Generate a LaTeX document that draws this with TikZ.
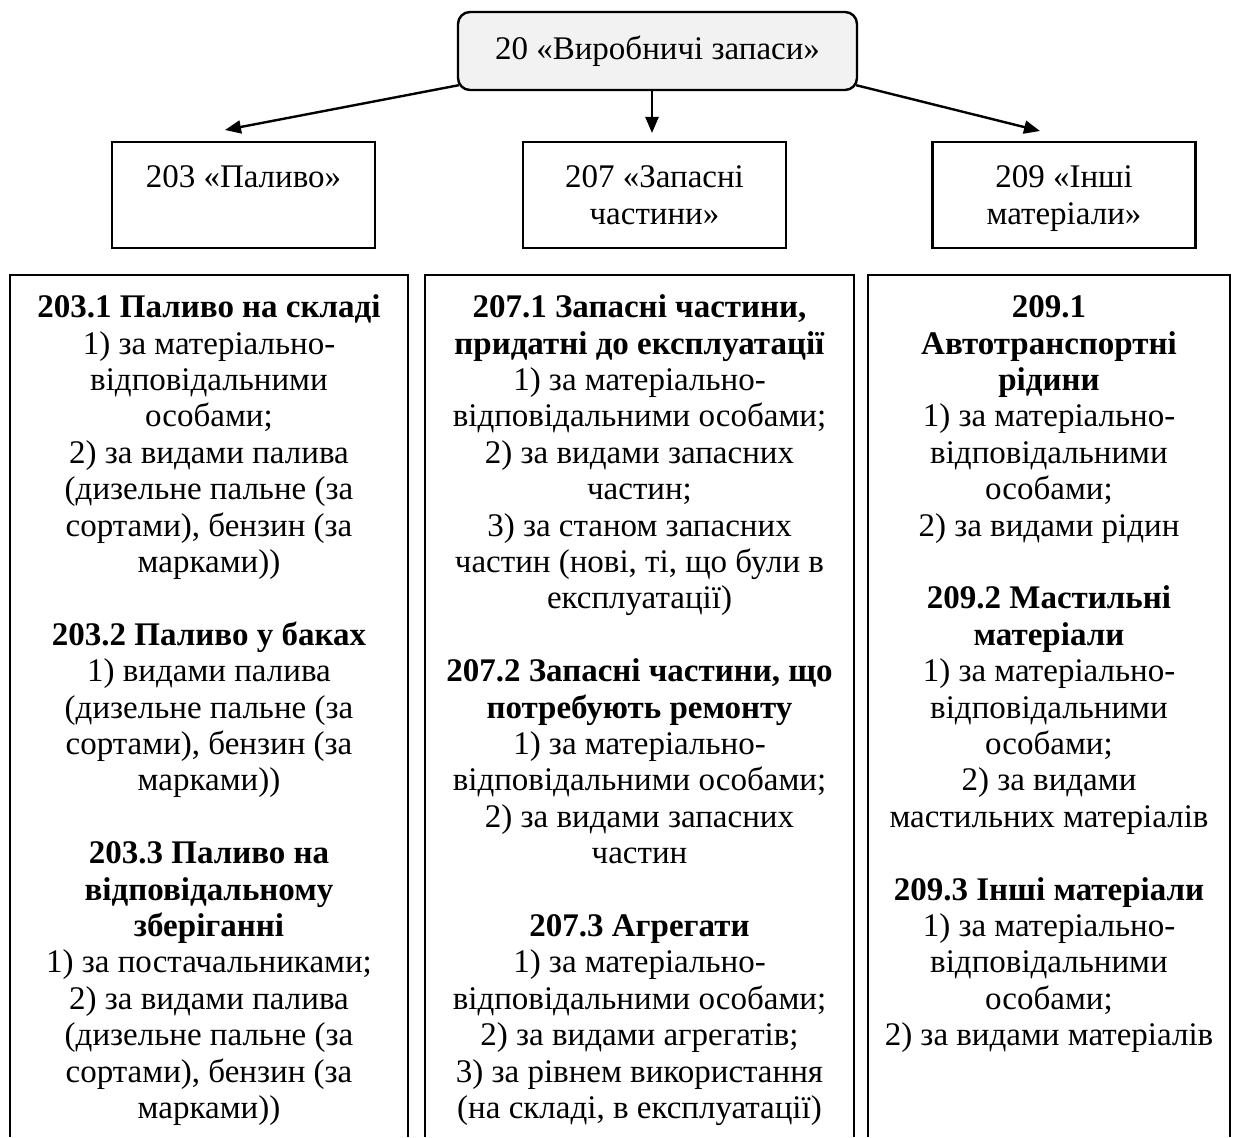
\documentclass[tikz,border=0pt]{standalone}
\usepackage{fontspec}
\setmainfont{Liberation Serif}
\usetikzlibrary{arrows.meta}
\definecolor{topfill}{RGB}{242,242,242}
\newcommand{\colfont}{\fontsize{33}{36.4}\selectfont\lineskiplimit=-20pt\relax}
\begin{document}
\begin{tikzpicture}[x=1pt,y=-1pt,
  txt/.style={font=\colfont, align=center, inner sep=0pt, anchor=north},
  boxframe/.style={draw, line width=2.4pt},
  arr/.style={line width=2.4pt, -{Triangle[length=16pt,width=13pt]}},
]
\useasboundingbox (0,0) rectangle (1238,1137);

% top box
\node[boxframe, rounded corners=12pt, fill=topfill, minimum width=399pt, minimum height=78pt, inner sep=0pt,
      font=\fontsize{33}{37.2}\selectfont] (top) at (657.5,51) {20 «Виробничі запаси»};

% second level boxes
\node[boxframe, minimum width=263pt, minimum height=106pt, inner sep=0pt] (b203) at (243.5,195) {};
\node[boxframe, minimum width=263pt, minimum height=106pt, inner sep=0pt] (b207) at (654.5,195) {};
\node[boxframe, minimum width=263pt, minimum height=106pt, inner sep=0pt] (b209) at (1064,195) {};
\node[txt] (t203) at (243.5,162) {\strut 203 «Паливо»};
\node[txt] (t207) at (654.5,162) {\strut 207 «Запасні\\частини»};
\node[txt] (t209) at (1064,162) {\strut 209 «Інші\\матеріали»};

% arrows
\coordinate (e203) at (225,130);
\coordinate (e207) at (652,133);
\coordinate (e209) at (1040,131);
\draw[arr] ([shift={(2,-6)}]top.south west) -- (e203);
\draw[arr] (top.south -| e207) -- (e207);
\draw[arr] ([shift={(-2,-6)}]top.south east) -- (e209);

% columns (open at the bottom)
\coordinate (c1bl) at (10,1137);  \coordinate (c1tl) at (10,275);
\coordinate (c1tr) at (408,275);  \coordinate (c1br) at (408,1137);
\coordinate (c2bl) at (425,1137); \coordinate (c2tl) at (425,275);
\coordinate (c2tr) at (854,275);  \coordinate (c2br) at (854,1137);
\coordinate (c3bl) at (868,1137); \coordinate (c3tl) at (868,275);
\coordinate (c3tr) at (1230,275); \coordinate (c3br) at (1230,1137);
\draw[boxframe] (c1bl) -- (c1tl) -- (c1tr) -- (c1br);
\draw[boxframe] (c2bl) -- (c2tl) -- (c2tr) -- (c2br);
\draw[boxframe] (c3bl) -- (c3tl) -- (c3tr) -- (c3br);

\node[txt] (col1) at (209,292) {\strut\textbf{203.1 Паливо на складі}\\
1) за матеріально-\\
відповідальними\\
особами;\\
2) за видами палива\\
(дизельне пальне (за\\
сортами), бензин (за\\
марками))\\[36.4pt]
\textbf{203.2 Паливо у баках}\\
1) видами палива\\
(дизельне пальне (за\\
сортами), бензин (за\\
марками))\\[36.4pt]
\textbf{203.3 Паливо на}\\
\textbf{відповідальному}\\
\textbf{зберіганні}\\
1) за постачальниками;\\
2) за видами палива\\
(дизельне пальне (за\\
сортами), бензин (за\\
марками))};

\node[txt] (col2) at (639.5,292) {\strut\textbf{207.1 Запасні частини,}\\
\textbf{придатні до експлуатації}\\
1) за матеріально-\\
відповідальними особами;\\
2) за видами запасних\\
частин;\\
3) за станом запасних\\
частин (нові, ті, що були в\\
експлуатації)\\[36.4pt]
\textbf{207.2 Запасні частини, що}\\
\textbf{потребують ремонту}\\
1) за матеріально-\\
відповідальними особами;\\
2) за видами запасних\\
частин\\[36.4pt]
\textbf{207.3 Агрегати}\\
1) за матеріально-\\
відповідальними особами;\\
2) за видами агрегатів;\\
3) за рівнем використання\\
(на складі, в експлуатації)};

\node[txt] (col3) at (1049,292) {\strut\textbf{209.1}\\
\textbf{Автотранспортні}\\
\textbf{рідини}\\
1) за матеріально-\\
відповідальними\\
особами;\\
2) за видами рідин\\[36.4pt]
\textbf{209.2 Мастильні}\\
\textbf{матеріали}\\
1) за матеріально-\\
відповідальними\\
особами;\\
2) за видами\\
мастильних матеріалів\\[36.4pt]
\textbf{209.3 Інші матеріали}\\
1) за матеріально-\\
відповідальними\\
особами;\\
2) за видами матеріалів};
\end{tikzpicture}
\end{document}
